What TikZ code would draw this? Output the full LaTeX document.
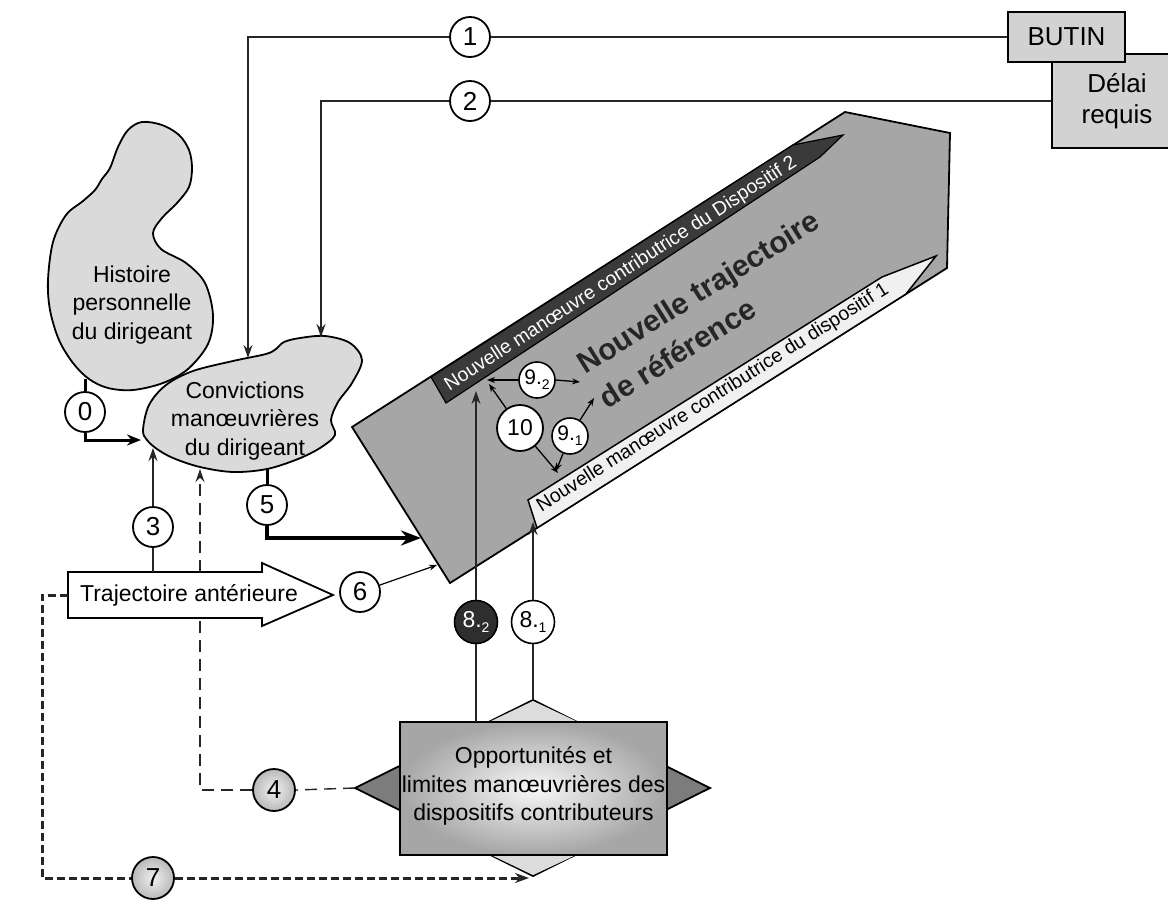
\documentclass[tikz,border=0pt]{standalone}
\usepackage{fontspec}
\setmainfont{Liberation Sans}
\usetikzlibrary{arrows.meta,shapes.geometric,calc}
\definecolor{polyg}{HTML}{A6A6A6}
\definecolor{blobg}{HTML}{DADADA}
\definecolor{boxg}{HTML}{D2D2D2}
\definecolor{darkband}{HTML}{3A3A3A}
\definecolor{whiteband}{HTML}{F0F0F0}
\definecolor{diamg}{HTML}{7C7C7C}
\definecolor{diamlight}{HTML}{DCDCDC}
\definecolor{darkc}{HTML}{2E2E2E}
\newcommand{\lowsub}[1]{\raisebox{-0.45ex}{\fontsize{14}{14}\selectfont #1}}
\begin{document}
\begin{tikzpicture}[x=1pt,y=-1pt,
 conn/.style={line width=1.5pt,draw=black!85},
 arr/.style={-{Stealth[length=13pt,width=9pt]}},
 sarr/.style={-{Stealth[length=8pt,width=6pt]}},
 numc/.style={circle,draw,line width=1.8pt,fill=white,minimum size=40pt,inner sep=0pt,font=\fontsize{26}{26}\selectfont},
 subc/.style={circle,draw,line width=1.6pt,fill=white,minimum size=36pt,inner sep=0pt,font=\fontsize{21}{21}\selectfont},
 lab/.style={font=\fontsize{23}{28.5}\selectfont,align=center,inner sep=0pt},
 graybox/.style={draw,line width=1.7pt,fill=boxg,inner sep=0pt,font=\fontsize{26}{31}\selectfont,align=center},
 dashfour/.style={line width=1.4pt,draw=black!85,dash pattern=on 12pt off 7pt},
 dashseven/.style={line width=3pt,draw=black!85,dash pattern=on 8pt off 4pt},
 shapeline/.style={line width=1.8pt,draw=black}
]
\useasboundingbox (0,0) rectangle (1168,913);
\fill[white] (0,0) rectangle (1168,913);
\clip (0,0) rectangle (1168,913);

% --- big polygon and bands
\filldraw[shapeline, fill=polyg] (352,427) -- (845,112) -- (950,133) -- (947,268) -- (450,583) -- cycle;
\filldraw[line width=1.2pt, fill=darkband] (431,377) -- (793,145) -- (843,135) -- (820,157) -- (446,403) -- cycle;
\filldraw[line width=1.5pt, fill=whiteband] (528,500) -- (882,277) -- (936,256) -- (906,294) -- (537,528) -- cycle;
\node[font=\fontsize{19.5}{19.5}\selectfont, text=white, rotate=33, inner sep=0pt] (b2txt) at (621,274) {Nouvelle manœuvre contributrice du Dispositif 2};
\node[font=\fontsize{19.5}{19.5}\selectfont, rotate=32.3, inner sep=0pt] (b1txt) at (713,398) {Nouvelle manœuvre contributrice du dispositif 1};
\node[font=\bfseries\fontsize{30}{41}\selectfont, align=left, rotate=32, text=black!85, inner sep=0pt] (title) at (709,309) {Nouvelle trajectoire\\de référence};

% --- blobs
\draw[shapeline, fill=blobg] plot[smooth cycle, tension=0.55] coordinates {(142,122) (162,125) (179,135) (189,150) (192,168) (189,187) (177,203) (162,218) (153,233) (161,249) (186,263) (205,283) (213,315) (208,344) (188,369) (163,383) (133,390) (108,388) (89,379) (73,363) (59,340) (50,310) (48,280) (53,242) (66,215) (83,201) (95,190) (102,179) (110,168) (118,147) (128,130)};
\node[lab] (hist) at (132,305) {Histoire\\personnelle\\du dirigeant};
\draw[shapeline, fill=blobg] plot[smooth cycle, tension=0.55] coordinates {(143,430) (149,405) (166,385) (193,371) (233,361) (266,354) (276,349) (284,342) (300,338) (325,336) (350,343) (362,360) (352,383) (338,402) (331,420) (335,435) (320,448) (298,459) (267,469) (233,472) (200,467) (173,458) (157,449) (147,440)};
\node[lab] (conv) at (245,421) {Convictions\\manœuvrières\\du dirigeant};

% --- boxes top right
\node[graybox, minimum width=130pt, minimum height=94pt, text width=126pt] (delai) at (1117,101) {Délai\\requis};
\node[graybox, minimum width=117pt, minimum height=50pt] (butin) at (1066.5,37) {BUTIN};

% --- trajectoire antérieure
\filldraw[shapeline, fill=white] (68,572) -- (262,572) -- (262,563) -- (333,595) -- (262,626) -- (262,618) -- (68,618) -- cycle;
\node[lab] (traj) at (189,595) {Trajectoire antérieure};

% --- opportunités
\filldraw[shapeline, fill=diamg] (355,788) -- (533,700) -- (710,788) -- (533,876) -- cycle;
\fill[diamlight] (489,722) -- (533,701) -- (578,722) -- cycle;
\fill[diamlight] (491,855) -- (533,875) -- (576,855) -- cycle;
\draw[shapeline, inner color=gray!6, outer color=gray!70] (400,722) rectangle (667,855);
\node[lab] (opp) at (533.5,786) {Opportunités et\\limites manœuvrières des\\dispositifs contributeurs};

% --- named coordinates
\coordinate (h0) at (85,379);
\coordinate (conv0) at (141,440);
\coordinate (conv1) at (248,358);
\coordinate (conv2) at (321,337);
\coordinate (conv3) at (153,448);
\coordinate (conv4) at (200,469);
\coordinate (conv5) at (267,469);
\coordinate (trajT3) at (153,572);
\coordinate (trajT4) at (200,572);
\coordinate (trajB4) at (200,618);
\coordinate (trajW) at (68,595);
\coordinate (corner7a) at (42,595);
\coordinate (corner7b) at (42,878);
\coordinate (poly5) at (421,538);
\coordinate (poly6) at (437,565);
\coordinate (oppW) at (355,788);
\coordinate (oppS) at (529,878);
\coordinate (oppN) at (533,700);
\coordinate (oppT82) at (476,722);
\coordinate (band82) at (476,391);
\coordinate (band81) at (533,522);
\coordinate (t92l) at (487,380);
\coordinate (t92r) at (580,382);
\coordinate (t10a) at (489,384);
\coordinate (t10b) at (558,473);
\coordinate (t91a) at (594,398);
\coordinate (t91b) at (556,471);

% --- circles
\node[numc] (c1) at (470,37) {1};
\node[numc] (c2) at (470,101) {2};
\node[numc] (c0) at (85,412) {0};
\node[numc] (c3) at (153,527) {3};
\node[numc, inner color=gray!12, outer color=gray!55, minimum size=42pt] (c4) at (274,790) {4};
\node[numc] (c5) at (267,505) {5};
\node[numc] (c6) at (360,592) {6};
\node[numc, inner color=gray!12, outer color=gray!55, minimum size=42pt] (c7) at (153,878) {7};
\node[subc, fill=darkc, text=white, minimum size=43pt, font=\fontsize{23}{23}\selectfont] (c82) at (476,622) {8.\lowsub{2}};
\node[subc, minimum size=43pt, font=\fontsize{23}{23}\selectfont] (c81) at (533,622) {8.\lowsub{1}};
\node[subc] (c92) at (537,380) {9.\lowsub{2}};
\node[subc] (c91) at (570,436) {9.\lowsub{1}};
\node[numc, minimum size=46pt, font=\fontsize{23}{23}\selectfont] (c10) at (520,428) {10};

% --- connectors
\draw[conn] (butin.west) -- (c1.east);
\draw[conn, arr] (c1.west) -| (conv1);
\draw[conn] (delai.west) -- (c2.east);
\draw[conn, arr] (c2.west) -| (conv2);
\draw[line width=3pt] (h0) -- (c0.north);
\draw[line width=3pt, -{Stealth[length=14pt,width=11pt]}] (c0.south) |- (conv0);
\draw[conn] (trajT3) -- (c3.south);
\draw[conn, arr] (c3.north) -- (conv3);
\draw[dashfour] (oppW) -- (c4.east);
\draw[dashfour] (c4.west) -| (trajB4);
\draw[dashfour, arr] (trajT4) -- (conv4);
\draw[line width=3pt] (conv5) -- (c5.north);
\draw[line width=4pt, -{Stealth[length=20pt,width=15pt]}] (c5.south) |- (poly5);
\draw[line width=1.2pt, sarr] (c6) -- (poly6);
\draw[dashseven] (trajW) -- (corner7a) -- (corner7b) -- (c7.west);
\draw[dashseven, -{Stealth[length=14pt,width=10pt]}] (c7.east) -- (oppS);
\draw[conn] (oppT82) -- (c82.south);
\draw[conn, arr] (c82.north) -- (band82);
\draw[conn] (oppN) -- (c81.south);
\draw[conn, arr] (c81.north) -- (band81);
\draw[line width=1.3pt, sarr] (c92.west) -- (t92l);
\draw[line width=1.3pt, sarr] (c92.east) -- (t92r);
\draw[line width=1.3pt, sarr] (c10) -- (t10a);
\draw[line width=1.3pt, sarr] (c10) -- (t10b);
\draw[line width=1.3pt, sarr] (c91) -- (t91a);
\draw[line width=1.3pt, sarr] (c91) -- (t91b);
\end{tikzpicture}
\end{document}
